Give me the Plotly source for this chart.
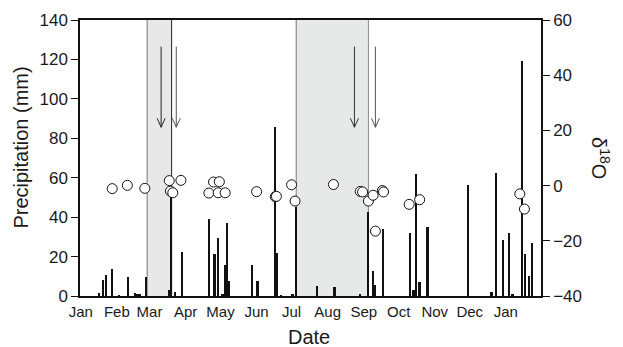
import plotly.graph_objects as go

# ---- data ----
rain_dates = ["2009-01-17", "2009-01-20", "2009-01-23", "2009-01-28", "2009-02-03", "2009-02-11",
              "2009-02-17", "2009-02-19", "2009-02-21", "2009-02-26", "2009-03-18", "2009-03-20",
              "2009-03-23", "2009-03-29", "2009-04-21", "2009-04-26", "2009-04-29", "2009-05-03",
              "2009-05-05", "2009-05-07", "2009-05-08", "2009-05-28", "2009-06-02", "2009-06-17",
              "2009-06-19", "2009-06-22", "2009-07-02", "2009-07-05", "2009-07-23", "2009-08-07",
              "2009-08-29", "2009-09-05", "2009-09-09", "2009-09-11", "2009-09-18", "2009-10-11",
              "2009-10-14", "2009-10-16", "2009-10-19", "2009-10-26", "2009-11-30", "2009-12-20",
              "2009-12-24", "2009-12-30", "2010-01-04", "2010-01-07", "2010-01-15", "2010-01-18",
              "2010-01-21", "2010-01-24"]
rain_mm = [1.4, 8.1, 10.7, 13.9, 0.5, 9.8,
           1.7, 1.0, 1.0, 9.5, 3.0, 50.0,
           1.9, 22.5, 38.9, 21.1, 29.5, 1.0,
           15.7, 36.9, 7.8, 15.7, 7.8, 85.9,
           21.6, 0.5, 1.0, 45.0, 5.1, 4.5,
           0.6, 42.8, 12.9, 5.7, 34.1, 31.8,
           3.0, 62.0, 7.3, 34.8, 56.3, 1.9,
           62.6, 28.2, 31.8, 1.2, 119.4, 21.3,
           10.4, 26.8]

d18o_dates = ["2009-01-28", "2009-02-10", "2009-02-25", "2009-03-18", "2009-03-19", "2009-03-21",
              "2009-03-28", "2009-04-21", "2009-04-25", "2009-04-29", "2009-04-30", "2009-05-05",
              "2009-06-01", "2009-06-17", "2009-06-18", "2009-07-01", "2009-07-04", "2009-08-06",
              "2009-08-29", "2009-08-31", "2009-09-05", "2009-09-09", "2009-09-11", "2009-09-17",
              "2009-09-18", "2009-10-10", "2009-10-19", "2010-01-13", "2010-01-17"]
d18o_vals = [-1.1, 0.1, -1.0, 1.8, -2.0, -2.6,
             1.9, -2.7, 1.3, -2.6, 1.4, -2.6,
             -2.2, -4.0, -3.9, 0.3, -5.6, 0.4,
             -2.1, -2.3, -5.6, -3.5, -16.5, -1.8,
             -2.3, -6.8, -5.1, -3.0, -8.5]

shade_start = ["2009-02-27", "2009-07-05"]
shade_end = ["2009-03-20", "2009-09-05"]
shade_end_colors = ["#222222", "#888888"]

arrow_dates = ["2009-03-11", "2009-03-24", "2009-08-24", "2009-09-11"]
arrow_colors = ["#222222", "#555555", "#333333", "#555555"]
arrow_top = 126.5
arrow_tip = 85.6

month_ticks = ["2009-01-01", "2009-02-01", "2009-03-01", "2009-04-01", "2009-05-01", "2009-06-01",
               "2009-07-01", "2009-08-01", "2009-09-01", "2009-10-01", "2009-11-01", "2009-12-01",
               "2010-01-01"]
month_labels = ["Jan", "Feb", "Mar", "Apr", "May", "Jun", "Jul", "Aug", "Sep", "Oct", "Nov", "Dec", "Jan"]

FONT = "Liberation Sans, Arial, sans-serif"
TXT = "#1a1a1a"

fig = go.Figure()
fig.add_trace(go.Bar(x=rain_dates, y=rain_mm, width=1.5 * 86400000,
                     marker=dict(color="#111111", line=dict(width=0)), yaxis="y", showlegend=False))
fig.add_trace(go.Scatter(x=d18o_dates, y=d18o_vals, mode="markers", yaxis="y2", showlegend=False,
                         marker=dict(symbol="circle", size=10, color="white",
                                     line=dict(color="#111111", width=1))))

shapes = []
for s, e, ec in zip(shade_start, shade_end, shade_end_colors):
    shapes.append(dict(type="rect", xref="x", yref="paper", x0=s, x1=e, y0=0, y1=1,
                       fillcolor="#e7e8e8", line=dict(width=0), layer="below"))
    shapes.append(dict(type="line", xref="x", yref="paper", x0=s, x1=s, y0=0, y1=1,
                       line=dict(color="#777777", width=1), layer="below"))
    shapes.append(dict(type="line", xref="x", yref="paper", x0=e, x1=e, y0=0, y1=1,
                       line=dict(color=ec, width=1), layer="below"))
for d, c in zip(arrow_dates, arrow_colors):
    shapes.append(dict(type="line", xref="x", yref="y", x0=d, x1=d, y0=arrow_tip, y1=arrow_top,
                       line=dict(color=c, width=1)))
    for dx in (-4, 4):
        shapes.append(dict(type="line", xref="x", yref="y", xsizemode="pixel", ysizemode="pixel",
                           xanchor=d, yanchor=arrow_tip, x0=dx, x1=0, y0=9, y1=0,
                           line=dict(color=c, width=1)))

annotations = [
    dict(text="Precipitation (mm)", xref="paper", yref="paper", x=-0.130, y=0.538,
         textangle=-90, showarrow=False, font=dict(size=20, family=FONT, color=TXT),
         xanchor="center", yanchor="middle"),
    dict(text="Date", xref="paper", yref="paper", x=0.496, y=-0.149, showarrow=False,
         font=dict(size=20, family=FONT, color=TXT), xanchor="center", yanchor="middle"),
    dict(text="δ<sup>18</sup>O", xref="paper", yref="paper", x=1.13, y=0.50, textangle=90,
         showarrow=False, font=dict(size=20, family=FONT, color=TXT),
         xanchor="center", yanchor="middle"),
]

fig.update_layout(
    width=623, height=347, autosize=False,
    margin=dict(l=80, r=82, t=20, b=51),
    paper_bgcolor="white", plot_bgcolor="white",
    bargap=0, barmode="overlay",
    font=dict(family=FONT, color=TXT),
    shapes=shapes, annotations=annotations,
    xaxis=dict(type="date", range=["2008-12-31 08:00", "2010-01-31 05:00"],
               tickvals=month_ticks, ticktext=month_labels, tickfont=dict(size=15),
               ticks="outside", ticklen=1, tickcolor="rgba(0,0,0,0)",
               showline=True, linecolor="#111111", linewidth=1.5, mirror=True,
               showgrid=False, zeroline=False),
    yaxis=dict(range=[0, 140], tickvals=[0, 20, 40, 60, 80, 100, 120, 140],
               ticks="outside", ticklen=7, tickwidth=1.2, tickcolor="#111111",
               tickfont=dict(size=17), showline=True, linecolor="#111111", linewidth=1.5,
               showgrid=False, zeroline=False),
    yaxis2=dict(range=[-40, 60], tickvals=[-40, -20, 0, 20, 40, 60], overlaying="y", side="right",
                ticks="outside", ticklen=7, tickwidth=1.2, tickcolor="#111111",
                tickfont=dict(size=17), showline=True, linecolor="#111111", linewidth=1.5,
                showgrid=False, zeroline=False),
)

fig.write_html("out.html", config={"displayModeBar": False},
               post_script="document.body.style.margin='0px';")
